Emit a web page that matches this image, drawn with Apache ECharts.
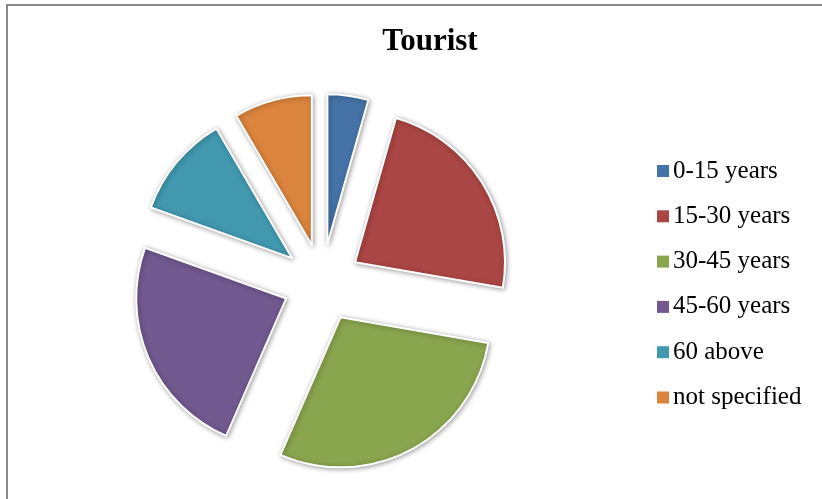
<!DOCTYPE html>
<html>
<head>
<meta charset="utf-8">
<script src="https://cdn.jsdelivr.net/npm/echarts@6/dist/echarts.min.js"></script>
<style>
  html, body { margin: 0; padding: 0; background: #fff; }
  #chart { width: 822px; height: 499px; }
</style>
</head>
<body>
<div id="chart"></div>
<script>
// Tourists by age group (share, %)
const categories = ['0-15 years', '15-30 years', '30-45 years', '45-60 years', '60 above', 'not specified'];
const shares = [4.4, 23.3, 28.8, 23.9, 11.1, 8.4];
const colors = ['#4572A7', '#AA4643', '#89A54E', '#71588F', '#4198AF', '#DB843D'];

const sliceStyle = {
  borderColor: '#ffffff',
  borderWidth: 2,
  shadowBlur: 5,
  shadowColor: 'rgba(0,0,0,0.35)',
  shadowOffsetX: 1,
  shadowOffsetY: 1
};

const chart = echarts.init(document.getElementById('chart'), null, { renderer: 'canvas' });

chart.setOption({
  animation: false,
  backgroundColor: '#ffffff',
  color: colors,
  title: {
    text: 'Tourist',
    left: 425,
    textAlign: 'center',
    top: 21,
    textStyle: {
      fontFamily: 'Liberation Serif',
      fontWeight: 'bold',
      fontSize: 31,
      color: '#000'
    }
  },
  legend: {
    orient: 'vertical',
    left: 652,
    top: 153,
    icon: 'rect',
    itemWidth: 12,
    itemHeight: 12,
    itemGap: 19.3,
    itemStyle: { borderWidth: 0, shadowBlur: 0, shadowOffsetX: 0, shadowOffsetY: 0 },
    textStyle: {
      fontFamily: 'Liberation Serif',
      fontSize: 25,
      lineHeight: 26,
      color: '#000',
      padding: [0, 0, 0, -1]
    },
    data: categories
  },
  graphic: [{
    type: 'rect',
    silent: true,
    shape: { x: 7, y: 5, width: 900, height: 600 },
    style: { fill: 'none', stroke: '#888888', lineWidth: 2 }
  }],
  series: [{
    type: 'pie',
    center: [322, 283],
    radius: 150,
    startAngle: 90,
    clockwise: true,
    selectedMode: 'multiple',
    selectedOffset: 39,
    avoidLabelOverlap: false,
    label: { show: false },
    labelLine: { show: false },
    emphasis: { disabled: true },
    itemStyle: sliceStyle,
    select: { itemStyle: sliceStyle },
    data: categories.map((name, i) => ({ name, value: shares[i], selected: true }))
  }]
});
</script>
</body>
</html>
